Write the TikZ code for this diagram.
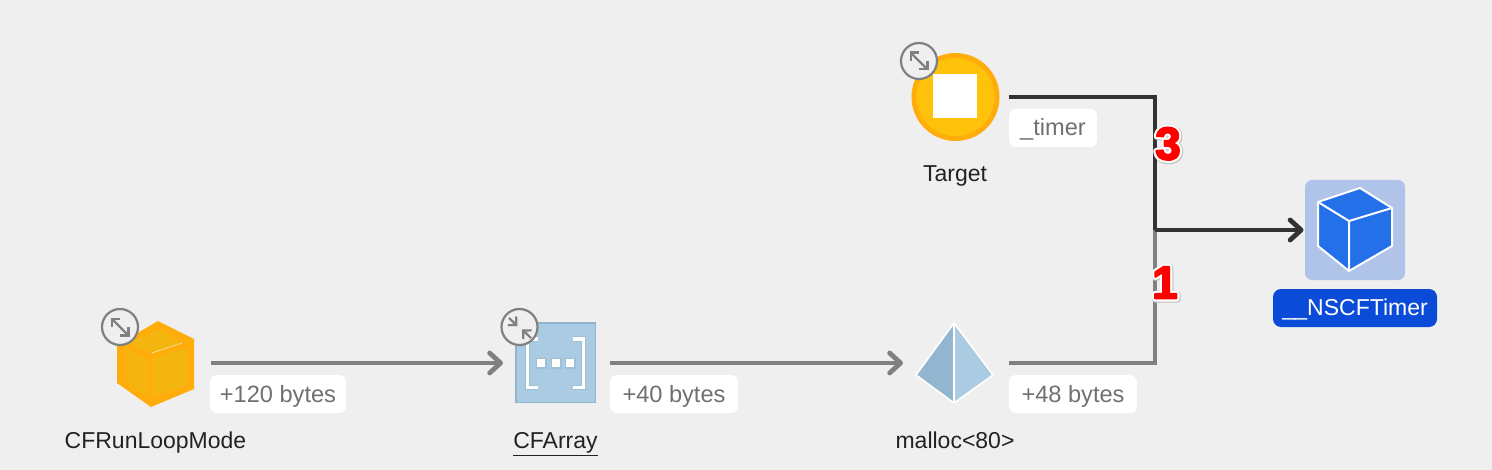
\documentclass[tikz,border=0pt]{standalone}
\usepackage{fontspec}
\setmainfont{Liberation Sans}
\newfontfamily\digitfont{Liberation Sans Bold}
\usetikzlibrary{arrows.meta}
\definecolor{bg}{HTML}{EFEFEF}
\definecolor{edgegrey}{HTML}{808080}
\definecolor{edgedark}{HTML}{333333}
\definecolor{labeltext}{HTML}{707070}
\definecolor{nametext}{HTML}{222222}
\definecolor{amberring}{HTML}{FFAD0A}
\definecolor{amberfill}{HTML}{FFC20A}
\definecolor{amberface}{HTML}{F3B50E}
\definecolor{steel}{HTML}{ABCBE3}
\definecolor{steeldark}{HTML}{92B6CF}
\definecolor{steelline}{HTML}{8FB4CC}
\definecolor{tile}{HTML}{B0C4EA}
\definecolor{cubeblue}{HTML}{2470E8}
\definecolor{selblue}{HTML}{0A4BD8}
% a step digit: soft grey halo, white outline, then the red glyph with a thin red stroke
\newcommand{\stepdigit}[1]{%
  \rlap{\special{pdf:code q 2 Tr 1 j 1 J 3.6 w 0.75 0.75 0.75 RG 0.75 0.75 0.75 rg}\kern0.25pt\raisebox{-0.3pt}{#1}\special{pdf:code Q}}%
  \rlap{\special{pdf:code q 2 Tr 1 j 1 J 3 w 1 1 1 RG 1 1 1 rg}#1\special{pdf:code Q}}%
  \special{pdf:code q 2 Tr 1 j 1 J 0.9 w 1 0 0 RG 1 0 0 rg}#1\special{pdf:code Q}}
\tikzset{
  x=0.5pt,y=-0.5pt,
  anchorbox/.style={inner sep=0pt,outer sep=0pt,draw=none},
  edgelabel/.style={fill=white,rounded corners=3.5pt,inner sep=0pt,outer sep=0pt,minimum height=19pt,text height=10pt,text depth=2pt,text=labeltext,font=\fontsize{11.8}{13}\selectfont},
  name text/.style={anchor=base,inner sep=0pt,text=nametext,font=\fontsize{11.5}{13}\selectfont},
  edge base/.style={line width=2pt,line cap=butt,line join=miter},
  arrowed/.style={-{Straight Barb[length=5.5pt,width=10pt,line width=2.4pt,round]}},
  badge/.style={circle,draw=edgegrey,line width=1.1pt,fill=bg,minimum size=18pt,inner sep=0pt},
  badge tip/.style={edgegrey,line width=1.1pt,{Straight Barb[length=3pt,width=6pt,line width=1.1pt]}-{Straight Barb[length=3pt,width=6pt,line width=1.1pt]}},
  in tip/.style={edgegrey,line width=1.1pt,-{Straight Barb[length=3pt,width=6pt,line width=1.1pt]}},
  step digit/.style={inner sep=0pt,font=\digitfont\fontsize{23}{26}\selectfont},
}
\begin{document}
\begin{tikzpicture}
\useasboundingbox (0,0) rectangle (1492,470);
\fill[bg] (0,0) rectangle (1492,470);
% anchors spanning each icon plus its connector gap
\node[anchorbox,minimum width=56pt,minimum height=45pt] (mode) at (155,363) {};
\node[anchorbox,minimum width=53.5pt,minimum height=45pt] (array) at (556.5,363) {};
\node[anchorbox,minimum width=53pt,minimum height=45pt] (malloc) at (956,363) {};
\node[anchorbox,minimum width=54pt,minimum height=45pt] (target) at (955,97) {};
\node[anchorbox,minimum width=51pt,minimum height=50pt] (timer) at (1354.5,230) {};
\coordinate (junction) at (1155,230);
% connectors
\draw[edge base,edgegrey,arrowed] (mode.east) -- (array.west);
\draw[edge base,edgegrey,arrowed] (array.east) -- (malloc.west);
\draw[edge base,edgegrey] (malloc.east) -| (junction);
\draw[edge base,edgedark] (target.east) -| (junction);
\draw[edge base,edgedark,arrowed] (junction) -- (timer.west);
% edge labels
\node[edgelabel,minimum width=68pt] (l120) at (278,394) {+120 bytes};
\node[edgelabel,minimum width=64pt] (l40) at (674,394) {+40 bytes};
\node[edgelabel,minimum width=64pt] (l48) at (1073,394) {+48 bytes};
\node[edgelabel,minimum width=44pt] (ltimer) at (1053,128) {\_timer};
% CFRunLoopMode cube
\fill[amberring] (158,321)--(194,339)--(194,389)--(151,407)--(117,383)--(117,345)--cycle;
\fill[amberface] (158,330)--(182,343)--(151,353)--(127,343)--cycle;
\fill[amberface] (126,348)--(147,360)--(147,397)--(126,380)--cycle;
\fill[amberface] (153,358)--(187,348)--(187,385)--(153,397)--cycle;
\draw[white,line width=0.3pt,dash pattern=on 1pt off 0.5pt] (152,353)--(182,343);
\node[badge] (b1) at (120,327) {};
\draw[badge tip] (110.5,317.5)--(129.5,336.5);
% CFArray
\fill[steel,draw=steelline,line width=0.8pt] (516,323) rectangle (595.5,402.5);
\draw[steelline!50!steel,line width=2.8pt] (538,339)--(527.5,339)--(527.5,387.5)--(538,387.5);
\draw[steelline!50!steel,line width=2.8pt] (573,339)--(583.5,339)--(583.5,387.5)--(573,387.5);
\draw[white,line width=1.7pt] (538,339)--(527.5,339)--(527.5,387.5)--(538,387.5);
\draw[white,line width=1.7pt] (573,339)--(583.5,339)--(583.5,387.5)--(573,387.5);
\fill[steelline!50!steel] (535.5,357.5) rectangle (546.5,368.5);
\fill[steelline!50!steel] (550.5,357.5) rectangle (561.5,368.5);
\fill[steelline!50!steel] (564.5,357.5) rectangle (575.5,368.5);
\fill[white] (537,359) rectangle (545,367);
\fill[white] (552,359) rectangle (560,367);
\fill[white] (566,359) rectangle (574,367);
\node[badge] (b2) at (519.5,327) {};
\draw[in tip] (509,318)--(517.5,326);
\draw[in tip] (531,338)--(522,329.5);
% malloc pyramid
\fill[steeldark] (954,323)--(916,375)--(954,403)--cycle;
\fill[steel] (954,323)--(993,375)--(954,403)--cycle;
\draw[white,line width=0.8pt,line join=round] (954,323)--(993,375)--(954,403)--(916,375)--cycle;
\draw[white,line width=1pt] (954,323)--(954,403);
% Target
\fill[amberring] (955.5,97) circle (44);
\fill[amberfill] (955.5,97) circle (39);
\fill[white] (933,74) rectangle (977,118);
\node[badge] (b3) at (919,61) {};
\draw[badge tip] (909.5,51.5)--(928.5,70.5);
% __NSCFTimer
\fill[tile,rounded corners=3.5pt] (1305,180) rectangle (1405,280);
\fill[cubeblue,draw=white,line width=1pt,line join=round] (1360,188)--(1392,208)--(1392,246)--(1349,271)--(1318,246)--(1318,202)--cycle;
\draw[white,line width=1pt,line join=round] (1318,202)--(1349,221)--(1392,208) (1349,221)--(1349,271);
% names
\node[name text] (nmode) at (155.5,448) {CFRunLoopMode};
\node[name text] (narray) at (555.5,448) {\underline{CFArray}};
\node[name text] (nmalloc) at (955,448) {malloc<80>};
\node[name text] (ntarget) at (955,182) {Target};
\node[fill=selblue,rounded corners=4pt,inner sep=0pt,minimum width=82pt,minimum height=19pt,text height=9pt,text depth=2pt,text=white,font=\fontsize{11.5}{13}\selectfont] (ntimer) at (1355,308) {\_\kern-0.3pt\_NSCFTimer};
% step numbers
\node[step digit] (s3) at (1168,144) {\stepdigit{3}};
\node[step digit] (s1) at (1165,283) {\stepdigit{1}};
\end{tikzpicture}
\end{document}
